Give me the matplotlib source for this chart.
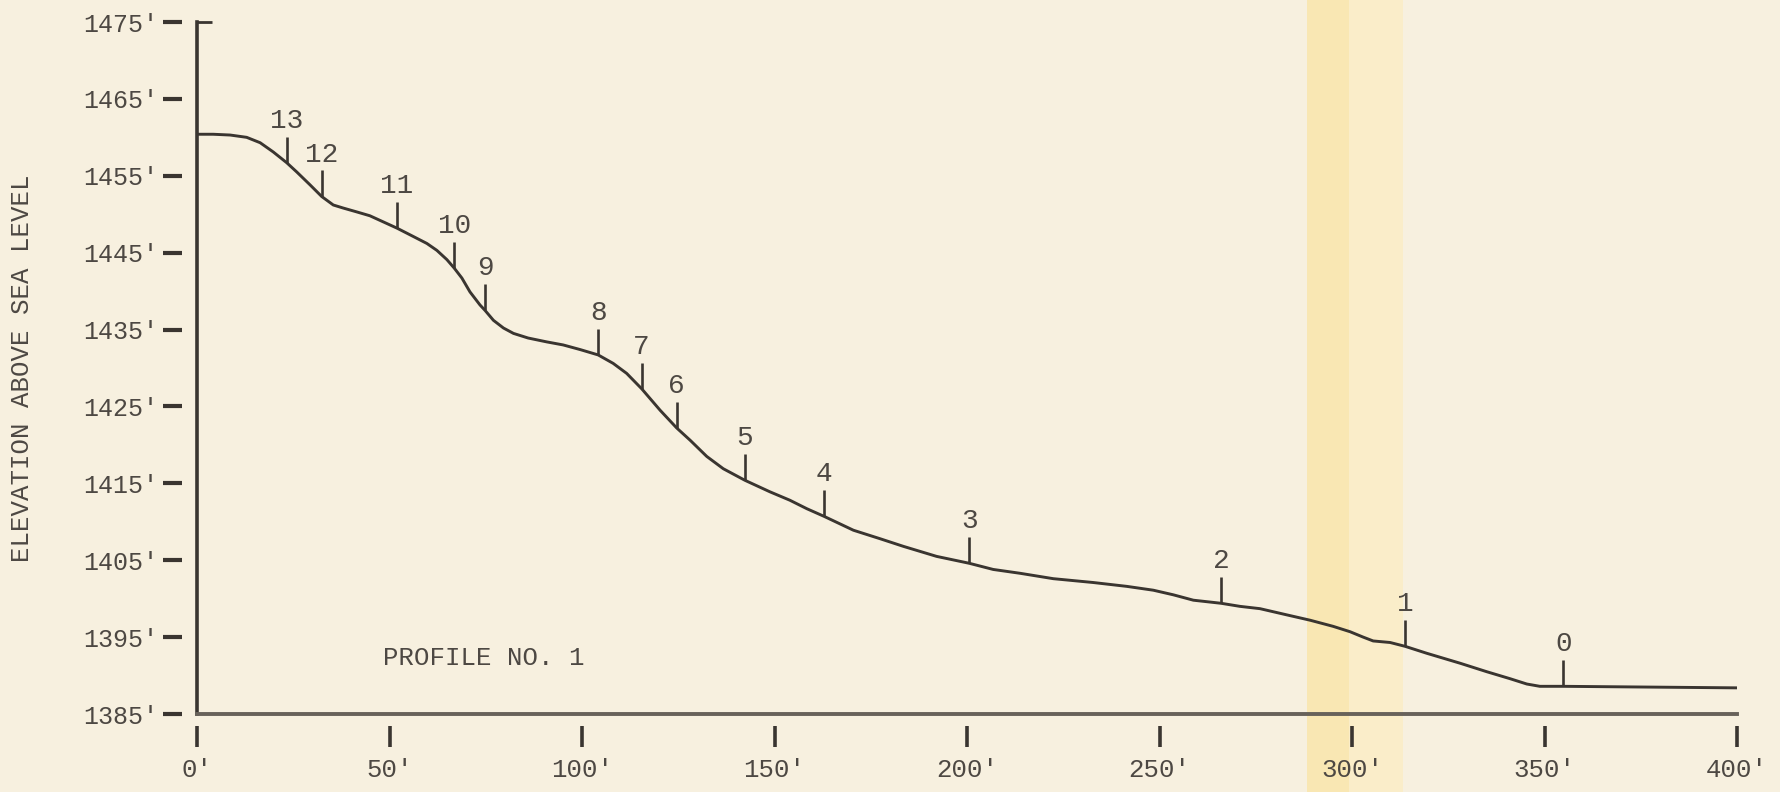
import matplotlib
matplotlib.use("Agg")
import matplotlib.pyplot as plt
from matplotlib.transforms import blended_transform_factory
from matplotlib.patches import Rectangle

# ---- data ----
profile_dist = [0.0, 4.2, 8.6, 12.9, 16.4, 19.8, 23.3, 25.9, 29.4, 32.4, 35.4, 38.0,
                41.5, 44.9, 48.4, 51.9, 56.2, 59.7, 62.3, 64.9, 66.8, 68.8, 70.9,
                73.5, 74.8, 77.0, 79.6, 82.2, 86.0, 90.8, 95.1, 99.5, 104.2, 108.1,
                111.6, 115.5, 120.3, 124.6, 128.1, 132.4, 136.7, 142.3, 148.8,
                154.0, 158.4, 162.9, 170.5, 177.4, 183.5, 192.1, 200.6, 206.8,
                213.8, 222.4, 232.8, 241.5, 248.4, 253.6, 258.8, 266.0, 270.9,
                276.1, 283.0, 289.1, 295.1, 299.5, 302.9, 305.5, 309.9, 313.8,
                319.4, 328.1, 335.0, 341.0, 345.4, 348.8, 354.9, 400.0]
profile_elev = [1460.4, 1460.4, 1460.3, 1460.0, 1459.3, 1458.1, 1456.7, 1455.5,
                1453.8, 1452.3, 1451.2, 1450.8, 1450.3, 1449.8, 1449.0, 1448.2,
                1447.1, 1446.2, 1445.3, 1444.1, 1443.0, 1441.7, 1439.9, 1438.2,
                1437.5, 1436.2, 1435.2, 1434.5, 1433.9, 1433.4, 1433.0, 1432.4,
                1431.7, 1430.6, 1429.3, 1427.3, 1424.5, 1422.2, 1420.6, 1418.5,
                1416.9, 1415.4, 1413.9, 1412.8, 1411.7, 1410.7, 1408.9, 1407.8,
                1406.8, 1405.5, 1404.6, 1403.8, 1403.3, 1402.6, 1402.1, 1401.6,
                1401.1, 1400.5, 1399.8, 1399.4, 1399.0, 1398.7, 1397.9, 1397.2,
                1396.4, 1395.7, 1395.0, 1394.5, 1394.3, 1393.8, 1392.9, 1391.6,
                1390.5, 1389.6, 1388.9, 1388.6, 1388.6, 1388.4]

station_labels = ["13", "12", "11", "10", "9", "8", "7", "6", "5", "4", "3", "2", "1", "0"]
station_dist = [23.3, 32.4, 51.9, 66.8, 74.8, 104.2, 115.5, 124.6, 142.3, 162.9,
                200.6, 266.0, 313.8, 354.9]
station_elev = [1456.7, 1452.3, 1448.2, 1443.0, 1437.5, 1431.7, 1427.3, 1422.2,
                1415.4, 1410.7, 1404.6, 1399.4, 1393.8, 1388.6]

x_ticks = [0, 50, 100, 150, 200, 250, 300, 350, 400]
y_ticks = [1385, 1395, 1405, 1415, 1425, 1435, 1445, 1455, 1465, 1475]
x_tick_labels = [f"{v}'" for v in x_ticks]
y_tick_labels = [f"{v}'" for v in y_ticks]

# ---- style ----
paper = "#f7f0df"
ink = "#3a3530"
text_ink = "#4d4843"
mono = ["Liberation Mono", "DejaVu Sans Mono"]

fig = plt.figure(figsize=(17.8, 7.92), dpi=100, facecolor=paper)
ax = fig.add_axes([197 / 1780, 78 / 792, 1540 / 1780, 692 / 792])
ax.set_facecolor("none")
ax.set_zorder(2)

# yellowed tape band across the page
band_tr = blended_transform_factory(ax.transData, fig.transFigure)
fig.patches.append(Rectangle((288.3, 0), 11.0, 1, transform=band_tr,
                             facecolor="#f9e7b3", edgecolor="none", zorder=-1))
fig.patches.append(Rectangle((299.3, 0), 14.0, 1, transform=band_tr,
                             facecolor="#faedc9", edgecolor="none", zorder=-1))

ax.set_xlim(0, 400)
ax.set_ylim(1385, 1475)

# profile line
ax.plot(profile_dist, profile_elev, color=ink, lw=2.1, solid_joinstyle="round",
        solid_capstyle="round", zorder=3)

# station ticks and labels
tick_len = 3.4
ax.vlines(station_dist, station_elev, [e + tick_len for e in station_elev],
          color=ink, lw=1.9, zorder=3)
for lab, d, e in zip(station_labels, station_dist, station_elev):
    ax.annotate(lab, (d, e + tick_len), xytext=(0, 2), textcoords="offset points",
                ha="center", va="bottom", fontsize=20, family=mono,
                color=text_ink)

# spines
for s in ["top", "right"]:
    ax.spines[s].set_visible(False)
ax.spines["left"].set_linewidth(2.6)
ax.spines["left"].set_color(ink)
ax.spines["bottom"].set_linewidth(2.8)
ax.spines["bottom"].set_color("#68625a")

# small cap at top of the vertical axis
ax.hlines(1475, 0, 0.01, transform=blended_transform_factory(ax.transAxes, ax.transData),
          color=ink, lw=2.0, clip_on=False)

# ticks
ax.set_xticks(x_ticks)
ax.set_xticklabels(x_tick_labels, family=mono, fontsize=18.5, color=text_ink)
ax.set_yticks(y_ticks)
ax.set_yticklabels(y_tick_labels, family=mono, fontsize=18, color=text_ink)
ax.tick_params(axis="x", length=0, pad=32)
ax.tick_params(axis="y", length=0, pad=28)

xt = blended_transform_factory(ax.transData, ax.transAxes)
ax.vlines(x_ticks, -0.047, -0.017, transform=xt, color=ink, lw=2.6, clip_on=False)
yt = blended_transform_factory(ax.transAxes, ax.transData)
ax.hlines(y_ticks, -0.022, -0.0095, transform=yt, color=ink, lw=3.0, clip_on=False)

# texts
fig.text(22 / 1780, 0.535, "ELEVATION ABOVE SEA LEVEL", rotation=90, ha="center",
         va="center", family=mono, fontsize=18.5, color=text_ink)
ax.text(48.3, 1392.3, "PROFILE NO. 1", ha="left", va="center", family=mono,
        fontsize=18.5, color=text_ink)

fig.savefig("out.png", dpi=100, facecolor=paper)
